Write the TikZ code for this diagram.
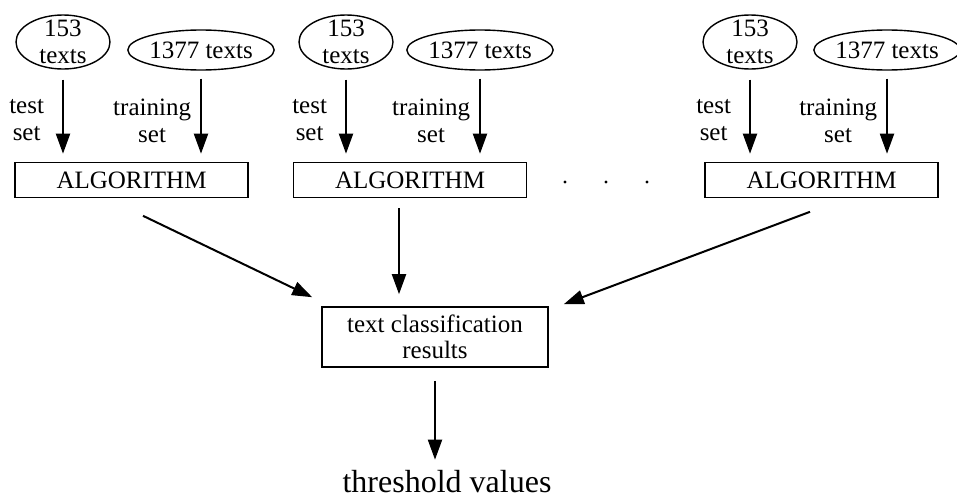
\documentclass[tikz,border=0pt]{standalone}
\usepackage{fontspec}
\setmainfont{Liberation Serif}
\usetikzlibrary{positioning, shapes.geometric, arrows.meta}
\tikzstyle{sample}=[ellipse, draw=black, line width=.7pt, inner sep=0pt, align=center, font=\fontsize{12.5}{13.5}\selectfont]
\tikzstyle{algo}=[rectangle, draw=black, line width=.8pt, minimum width=116.5pt, minimum height=17.5pt, align=center, font=\fontsize{12.5}{13}\selectfont]
\tikzstyle{arr}=[line width=1pt, -{Triangle[length=10pt,width=7pt]}]
\tikzstyle{lbl}=[align=center, inner sep=0pt, font=\fontsize{12.5}{13.5}\selectfont]

\begin{document}
\begin{tikzpicture}[x=.5pt, y=-.5pt]
    \useasboundingbox (0,0) rectangle (957,498);
    %one run of the algorithm per split of the texts
    \foreach \n/\xt/\xr/\wr/\xb in {1/63/201/72.5pt/131.5, 2/346/480/71pt/410, 3/750/887/68pt/821.5}{
        \node[sample, minimum width=47pt, minimum height=27pt, inner ysep=-3pt](test\n) at (\xt,42){153\\texts};
        \node[sample, minimum width=\wr, minimum height=20pt](train\n) at (\xr,50){1377 texts};
        \node[algo](alg\n) at (\xb,180){ALGORITHM};
        \draw[arr, shorten <=5pt, shorten >=4pt] (test\n) -- (test\n |- alg\n.north)
            node[lbl, pos=.55, left=9pt]{test\\set};
        \draw[arr, shorten <=4pt, shorten >=4pt] (train\n) -- (train\n |- alg\n.north)
            node[lbl, pos=.55, left=4.5pt]{training\\set};
    }
    \foreach \x in {565,606,647}
        \fill (\x,182) circle (1.6);
    \node[algo, minimum width=113pt, minimum height=30pt](res) at (435,337){text classification\\results};
    \node[font=\fontsize{16}{19}\selectfont](thr) at (447,482){threshold values};
    \draw[arr] ([shift={(11.5,17.5)}]alg1.south) -- ([shift={(-9,-9)}]res.north west);
    \draw[arr] ([shift={(-11,10)}]alg2.south) -- ([shift={(-36,-12)}]res.north);
    \draw[arr] ([shift={(-11.5,13.5)}]alg3.south) -- ([shift={(15,-2)}]res.north east);
    \draw[arr, shorten <=6.5pt, shorten >=2pt] (res) -- (res |- thr.north);
\end{tikzpicture}
\end{document}
